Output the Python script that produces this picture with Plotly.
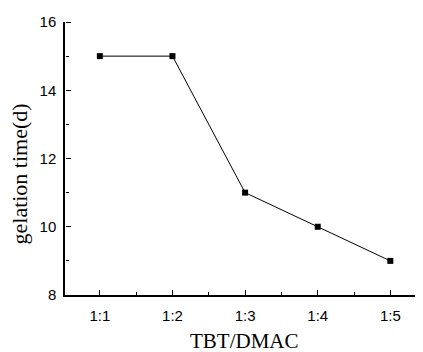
import plotly.graph_objects as go

categories = ["1:1", "1:2", "1:3", "1:4", "1:5"]
gelation_time = [15, 15, 11, 10, 9]
y_ticks = [8, 10, 12, 14, 16]
y_minor_ticks = [9, 11, 13, 15]
x_minor_ticks = [0.5, 1.5, 2.5, 3.5]
x_title = "TBT/DMAC"
y_title = "gelation time(d)"

x_pos = list(range(len(categories)))
x_range = [-0.48, 4.45]
y_range = [8, 16]

fig = go.Figure()
fig.add_trace(go.Scatter(
    x=x_pos, y=gelation_time, mode="lines+markers",
    line=dict(color="black", width=1),
    marker=dict(symbol="square", size=6, color="black"),
    showlegend=False,
))
# invisible helper traces so the overlaid tick-only axes are drawn
for xa, ya in (("x2", "y2"), ("x3", "y3")):
    fig.add_trace(go.Scatter(
        x=x_pos, y=gelation_time, xaxis=xa, yaxis=ya, mode="markers",
        marker=dict(opacity=0), hoverinfo="skip", showlegend=False,
    ))

serif = "Liberation Serif, Times New Roman, serif"
sans = "Liberation Sans, Arial, sans-serif"
axis_color = "black"

tick_only = dict(showticklabels=False, showgrid=False, zeroline=False,
                 showline=False, ticks="outside", tickcolor=axis_color, tickwidth=1)

fig.update_layout(
    width=415, height=344,
    margin=dict(l=57, r=0, t=14, b=57),
    paper_bgcolor="white", plot_bgcolor="white",
    font=dict(family=sans, color="black"),
    xaxis=dict(
        range=x_range, tickmode="array", tickvals=x_pos, ticktext=categories,
        showgrid=False, zeroline=False,
        showline=True, linecolor=axis_color, linewidth=1.5,
        ticks="", ticklabelstandoff=6,
        tickfont=dict(size=15, family=sans, color="black"),
    ),
    yaxis=dict(
        range=y_range, tickmode="array", tickvals=y_ticks,
        showgrid=False, zeroline=False,
        showline=True, linecolor=axis_color, linewidth=1.5,
        ticks="", ticklabelstandoff=4,
        tickfont=dict(size=15, family=sans, color="black"),
    ),
    # major tick marks drawn inside the plot (top side of x, right side of y)
    xaxis2=dict(overlaying="x", anchor="free", position=0, side="top",
                range=x_range, tickmode="array", tickvals=x_pos, ticklen=5, **tick_only),
    yaxis2=dict(overlaying="y", anchor="free", position=0, side="right",
                range=y_range, tickmode="array", tickvals=y_ticks, ticklen=5, **tick_only),
    # minor tick marks
    xaxis3=dict(overlaying="x", anchor="free", position=0, side="top",
                range=x_range, tickmode="array", tickvals=x_minor_ticks, ticklen=3, **tick_only),
    yaxis3=dict(overlaying="y", anchor="free", position=0, side="right",
                range=y_range, tickmode="array", tickvals=y_minor_ticks, ticklen=3, **tick_only),
    annotations=[
        dict(text=x_title, xref="paper", yref="paper", x=0.5, y=0,
             xanchor="center", yanchor="middle", yshift=-46, showarrow=False,
             font=dict(family=serif, size=21, color="black")),
        dict(text=y_title, xref="paper", yref="paper", x=0, y=0.5,
             xanchor="center", yanchor="middle", xshift=-46, yshift=-16,
             textangle=-90, showarrow=False,
             font=dict(family=serif, size=22, color="black")),
    ],
)

fig.write_html("out.html")
